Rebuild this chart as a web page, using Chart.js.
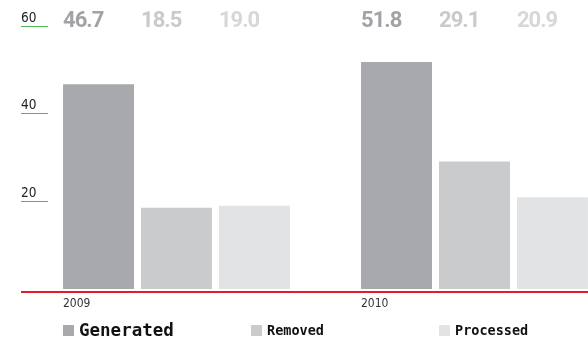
<!DOCTYPE html>
<html>
<head>
<meta charset="utf-8">
<script src="https://cdn.jsdelivr.net/npm/chart.js@4.4.1/dist/chart.umd.min.js"></script>
<style>
  html, body { margin: 0; padding: 0; background: #fff; overflow: hidden; }
  #wrap { position: relative; width: 588px; height: 342px; }
  #legend { position: absolute; left: 63px; top: 320px; display: flex; }
  .item { width: 188px; display: flex; align-items: center; font-family: 'DejaVu Sans Mono', monospace; font-weight: bold; font-size: 13.5px; color: #111; }
  .item .box { width: 11px; height: 11px; margin-right: 5px; }
  .item.main { font-size: 17.5px; }
</style>
</head>
<body>
<div id="wrap">
  <canvas id="myChart" width="588" height="342"></canvas>
  <div id="legend"></div>
</div>
<script>
var years = ['2009', '2010'];
var seriesNames = ['Generated', 'Removed', 'Processed'];
var generated = [46.7, 51.8];
var removed = [18.5, 29.1];
var processed = [19.0, 20.9];
var yTicks = [20, 40, 60];

var barColors = ['#a8a9ad', '#cacbcd', '#e2e3e5'];
var labelColors = ['#a2a3a7', '#c9cacc', '#d6d7d9'];
var red = '#e8192c';
var green = '#4fb856';

var datasets = [generated, removed, processed].map(function(values, i) {
  return {
    label: seriesNames[i],
    data: values.map(function(v, j) { return { x: j, y: v }; }),
    backgroundColor: barColors[i],
    categoryPercentage: 0.785,
    barPercentage: 0.91
  };
});

// numbers written above each bar, left aligned with the bar
var valueLabels = {
  id: 'valueLabels',
  afterDatasetsDraw: function(chart) {
    var ctx = chart.ctx;
    ctx.save();
    ctx.font = 'bold 22px Roboto';
    ctx.letterSpacing = '-1px';
    ctx.textAlign = 'left';
    ctx.textBaseline = 'middle';
    chart.data.datasets.forEach(function(ds, i) {
      chart.getDatasetMeta(i).data.forEach(function(bar, j) {
        var p = bar.getProps(['x', 'width'], true);
        ctx.fillStyle = labelColors[i];
        ctx.fillText(ds.data[j].y.toFixed(1), p.x - p.width / 2, chart.chartArea.top - 5);
      });
    });
    ctx.restore();
  }
};

var ctx = document.getElementById('myChart').getContext('2d');
var myChart = new Chart(ctx, {
  type: 'bar',
  data: { datasets: datasets },
  plugins: [valueLabels],
  options: {
    responsive: false,
    animation: false,
    layout: { padding: { left: 21, right: 0, top: 26, bottom: 30 } },
    plugins: {
      legend: { display: false },
      tooltip: { enabled: false }
    },
    scales: {
      x: {
        type: 'linear',
        offset: false,
        // window is wider on the right so the second year runs off the edge
        min: -0.4312,
        max: 1.3809,
        grid: { display: false, drawTicks: false },
        border: { display: false },
        afterBuildTicks: function(scale) {
          scale.ticks = years.map(function(y, i) { return { value: i }; });
        },
        afterFit: function(scale) { scale.height = 20; },
        ticks: {
          align: 'start',
          labelOffset: -113.5,
          padding: 5,
          maxRotation: 0,
          autoSkip: false,
          color: '#333',
          font: { family: 'DejaVu Sans Condensed', size: 12 },
          callback: function(value) { return years[value]; }
        }
      },
      y: {
        min: -0.7, // small gap between the bars and the red baseline
        max: 60,
        border: { display: false },
        afterBuildTicks: function(scale) {
          scale.ticks = [scale.min].concat(yTicks).map(function(v) { return { value: v }; });
        },
        afterFit: function(scale) { scale.width = 27; },
        grid: {
          tickLength: 27,
          color: function(c) { return c.index === 0 ? red : 'transparent'; },
          tickColor: function(c) { return c.index === 0 ? red : green; },
          lineWidth: function(c) { return c.index === 0 ? 2 : 1; }
        },
        ticks: {
          crossAlign: 'far',
          labelOffset: -8,
          color: '#222',
          font: { family: 'DejaVu Sans Condensed', size: 13.5 },
          callback: function(value) { return value < 0 ? '' : value; }
        }
      }
    }
  }
});

// legend row under the chart
var legend = document.getElementById('legend');
seriesNames.forEach(function(name, i) {
  var item = document.createElement('div');
  item.className = 'item' + (i === 0 ? ' main' : '');
  var box = document.createElement('span');
  box.className = 'box';
  box.style.background = barColors[i];
  item.appendChild(box);
  item.appendChild(document.createTextNode(name));
  legend.appendChild(item);
});
</script>
</body>
</html>
